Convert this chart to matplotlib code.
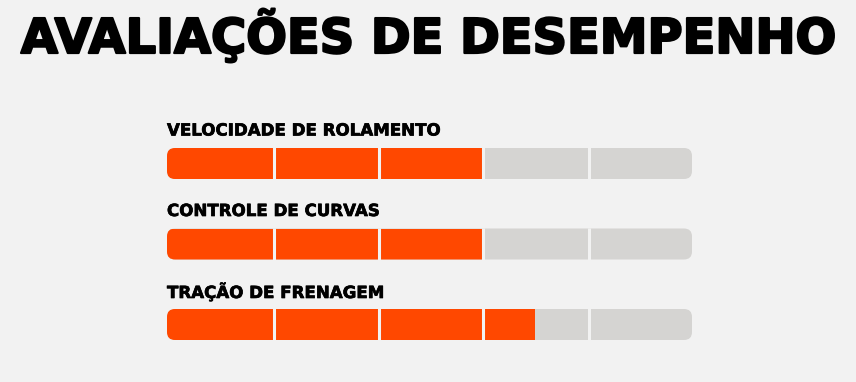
import matplotlib.pyplot as plt
import matplotlib.patheffects as pe
from matplotlib.patches import FancyBboxPatch

# ratings out of 5
labels = ['VELOCIDADE DE ROLAMENTO', 'CONTROLE DE CURVAS', 'TRAÇÃO DE FRENAGEM']
ratings = [3, 3, 3.5]
max_rating = 5

bg = '#f2f2f2'
orange = '#ff4800'
grey = '#d5d4d2'

W, H = 856, 382
fig = plt.figure(figsize=(W / 100, H / 100), dpi=100, facecolor=bg)

fig.text(0.5, 1 - 36 / H, 'AVALIAÇÕES DE DESEMPENHO', ha='center', va='center',
         fontsize=34.5, fontweight='bold', family='DejaVu Sans', color='#000000',
         path_effects=[pe.withStroke(linewidth=1.6, foreground='#000000')])

# axes covers the bars: x in rating units, y in row units
left, right, top, bottom = 167, 692, 148, 340
ax = fig.add_axes([left / W, 1 - bottom / H, (right - left) / W, (bottom - top) / H])
ax.set_facecolor(bg)
ax.axis('off')

row_px = 80.5
bar_h = 31 / row_px
ax.set_xlim(0, max_rating)
ax.set_ylim(len(ratings) - 1 + bar_h / 2, -bar_h / 2)

px_x = (right - left) / max_rating
radius = 8 / px_x
aspect = px_x / row_px

for i, (lab, val) in enumerate(zip(labels, ratings)):
    track = FancyBboxPatch((0, i - bar_h / 2), max_rating, bar_h,
                           boxstyle=f'round,pad=0,rounding_size={radius}',
                           mutation_aspect=aspect, fc=grey, ec='none')
    ax.add_patch(track)
    fill = ax.barh(i, val, height=bar_h, left=0, color=orange, zorder=2)
    for b in fill:
        b.set_clip_path(track)
    # gaps between segments
    ax.vlines([k + 1.5 / px_x for k in range(1, max_rating)], i - bar_h / 2 - 0.01,
              i + bar_h / 2 + 0.01, colors=bg, linewidth=2.2, zorder=3)
    ax.text(0, i - 33 / row_px, lab, ha='left', va='center', fontsize=12,
            fontweight='bold', family='DejaVu Sans', color='#000000', clip_on=False,
            path_effects=[pe.withStroke(linewidth=0.5, foreground='#000000')])

fig.savefig('out.png', dpi=100, facecolor=bg)
